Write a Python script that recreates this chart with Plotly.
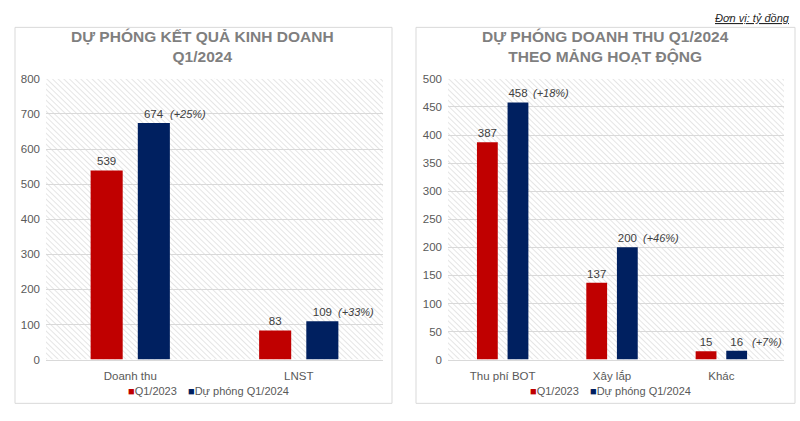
import base64
import plotly.graph_objects as go

# ---- data ----
cats_left = ["Doanh thu", "LNST"]
q1_2023_left = [539, 83]
q1_2024_left = [674, 109]
growth_left = ["(+25%)", "(+33%)"]

cats_right = ["Thu phí BOT", "Xây lắp", "Khác"]
q1_2023_right = [387, 137, 15]
q1_2024_right = [458, 200, 16]
growth_right = ["(+18%)", "(+46%)", "(+7%)"]

series_names = ["Q1/2023", "Dự phóng Q1/2024"]
title_left = "DỰ PHÓNG KẾT QUẢ KINH DOANH<br>Q1/2024"
title_right = "DỰ PHÓNG DOANH THU Q1/2024<br>THEO MẢNG HOẠT ĐỘNG"
unit_text = "Đơn vị: tỷ đồng"

RED = "#c00000"
NAVY = "#002060"
COLORS = [RED, NAVY]
FONT = "Liberation Sans, Arial, sans-serif"

fig = go.Figure()

def add_bars(cats, v1, v2, xa, ya):
    for vals, color, name in [(v1, RED, series_names[0]), (v2, NAVY, series_names[1])]:
        fig.add_trace(go.Bar(
            x=cats, y=vals, name=name, marker=dict(color=color, line=dict(width=0)),
            text=[str(v) for v in vals], textposition="outside",
            textfont=dict(size=11.5, color="#404040", family=FONT),
            cliponaxis=False, xaxis=xa, yaxis=ya, showlegend=False, hoverinfo="skip",
        ))

add_bars(cats_left, q1_2023_left, q1_2024_left, "x", "y")
add_bars(cats_right, q1_2023_right, q1_2024_right, "x2", "y2")

# growth annotations
annotations = []
for i, (v, g) in enumerate(zip(q1_2024_left, growth_left)):
    annotations.append(dict(x=i + 0.14, y=v, xref="x", yref="y", text="<i>" + g + "</i>",
                            showarrow=False, xanchor="left", yanchor="bottom", xshift=14, yshift=1,
                            font=dict(size=11, color="#404040", family=FONT)))
for i, (v, g) in enumerate(zip(q1_2024_right, growth_right)):
    annotations.append(dict(x=i + 0.143, y=v, xref="x2", yref="y2", text="<i>" + g + "</i>",
                            showarrow=False, xanchor="left", yanchor="bottom", xshift=13, yshift=1,
                            font=dict(size=11, color="#404040", family=FONT)))

# titles
annotations.append(dict(x=203 / 800, y=1 - 42 / 421, xref="paper", yref="paper", text="<b>" + title_left + "</b>",
                        showarrow=False, xanchor="center", yanchor="middle",
                        font=dict(size=15.5, color="#7f7f7f", family=FONT)))
annotations.append(dict(x=605 / 800, y=1 - 42 / 421, xref="paper", yref="paper", text="<b>" + title_right + "</b>",
                        showarrow=False, xanchor="center", yanchor="middle",
                        font=dict(size=15.5, color="#7f7f7f", family=FONT)))
annotations.append(dict(x=792 / 800, y=1 - 12 / 421, xref="paper", yref="paper", text="<i><u>" + unit_text + "</u></i>",
                        showarrow=False, xanchor="right", yanchor="middle",
                        font=dict(size=11, color="#262626", family=FONT)))

# manual legends (compact square + label)
legend_pos = [(126, 186), (528, 588)]
for (xa, xb) in legend_pos:
    for xpos, color, name in zip((xa, xb), COLORS, series_names):
        annotations.append(dict(x=xpos / 800, y=1 - 396 / 421, xref="paper", yref="paper",
                                text=f"<span style='color:{color};font-size:11px'>■</span>{name}",
                                showarrow=False, xanchor="left", yanchor="middle",
                                font=dict(size=11, color="#595959", family=FONT)))

# hatch background image
def hatch_svg(w, h):
    svg = (f'<svg xmlns="http://www.w3.org/2000/svg" width="{w}" height="{h}" viewBox="0 0 {w} {h}" preserveAspectRatio="none">'
           '<defs><pattern id="p" patternUnits="userSpaceOnUse" width="4" height="4" patternTransform="rotate(-45)">'
           '<line x1="0" y1="0" x2="0" y2="4" stroke="#d4d4d4" stroke-width="1.2"/></pattern></defs>'
           f'<rect width="{w}" height="{h}" fill="white"/><rect width="{w}" height="{h}" fill="url(#p)"/></svg>')
    return "data:image/svg+xml;base64," + base64.b64encode(svg.encode()).decode()

images = [
    dict(source=hatch_svg(337, 289), xref="x domain", yref="y domain", x=0, y=1, sizex=1, sizey=1,
         sizing="stretch", layer="below", xanchor="left", yanchor="top"),
    dict(source=hatch_svg(336, 288), xref="x2 domain", yref="y2 domain", x=0, y=1, sizex=1, sizey=1,
         sizing="stretch", layer="below", xanchor="left", yanchor="top"),
]

shapes = [
    dict(type="rect", xref="paper", yref="paper", x0=15 / 800, x1=392 / 800, y0=1 - 409 / 421, y1=1 - 22 / 421,
         line=dict(color="#d9d9d9", width=1), fillcolor="rgba(0,0,0,0)", layer="below"),
    dict(type="rect", xref="paper", yref="paper", x0=416 / 800, x1=795 / 800, y0=1 - 409 / 421, y1=1 - 22 / 421,
         line=dict(color="#d9d9d9", width=1), fillcolor="rgba(0,0,0,0)", layer="below"),
]

ydom = [1 - 364 / 421, 1 - 75 / 421]
axis_common = dict(showline=False, ticks="", tickfont=dict(size=11.5, color="#595959", family=FONT),
                   gridcolor="#d9d9d9", gridwidth=1, zeroline=False, ticklabelstandoff=5)

fig.update_layout(
    width=800, height=421, margin=dict(l=0, r=0, t=0, b=0),
    paper_bgcolor="white", plot_bgcolor="rgba(0,0,0,0)",
    barmode="group", bargap=0.44, bargroupgap=0.32,
    font=dict(family=FONT), showlegend=False, hovermode=False,
    xaxis=dict(domain=[46 / 800, 383 / 800], anchor="y", showgrid=False,
               showline=True, linecolor="#d9d9d9", linewidth=1, ticks="",
               tickfont=dict(size=11.5, color="#595959", family=FONT), ticklabelstandoff=6),
    yaxis=dict(domain=ydom, anchor="x", range=[0, 800], dtick=100, **axis_common),
    xaxis2=dict(domain=[448 / 800, 784 / 800], anchor="y2", showgrid=False,
                showline=True, linecolor="#d9d9d9", linewidth=1, ticks="",
                tickfont=dict(size=11.5, color="#595959", family=FONT), ticklabelstandoff=6),
    yaxis2=dict(domain=ydom, anchor="x2", range=[0, 500], dtick=50, **axis_common),
    annotations=annotations, images=images, shapes=shapes,
)

# vertical category separators
for xa, ya, n in [("x", "y", len(cats_left)), ("x2", "y2", len(cats_right))]:
    for k in range(n - 1):
        fig.add_shape(type="line", xref=xa, yref=ya + " domain", x0=k + 0.5, x1=k + 0.5, y0=0, y1=1,
                      line=dict(color="#d9d9d9", width=1), layer="below")

fig.write_html("out.html", config={"displayModeBar": False},
               post_script="document.body.style.margin='0';document.body.style.padding='0';")
